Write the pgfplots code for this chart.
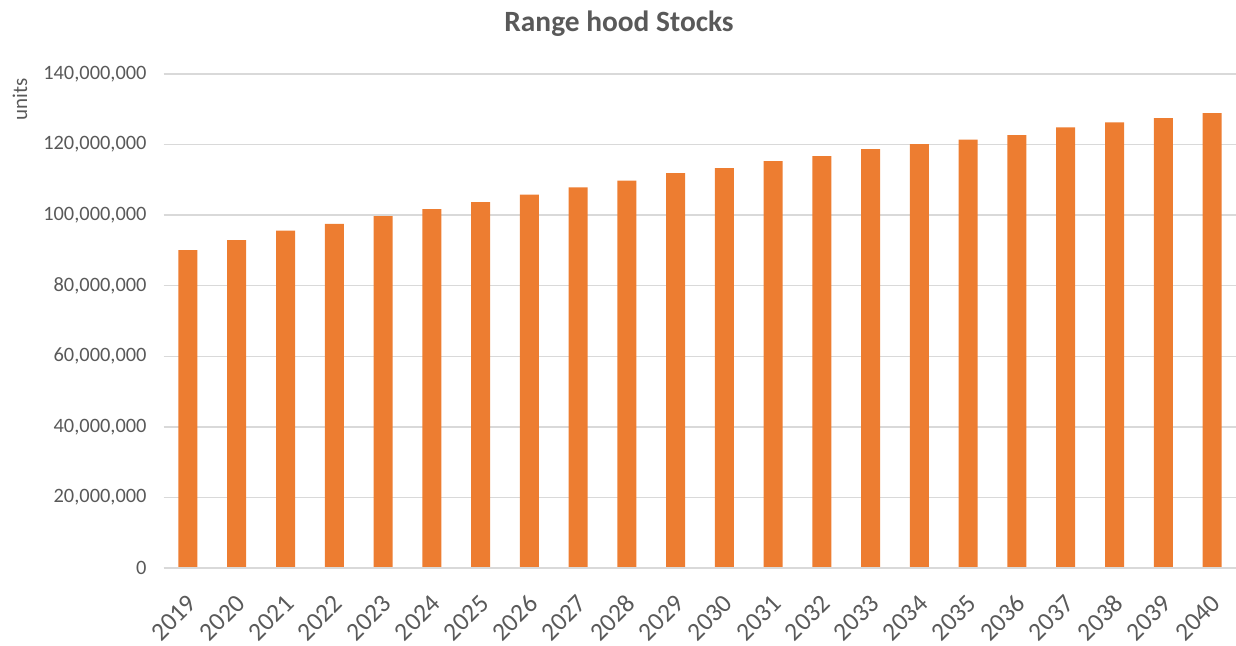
\documentclass[border=0pt]{standalone}
\usepackage{pgfplots}
\pgfplotsset{compat=1.18}
\usepackage{fontspec}
\setmainfont{Carlito}
\definecolor{barorange}{HTML}{ED7D31}
\definecolor{txtgrey}{HTML}{595959}
\definecolor{gridgrey}{HTML}{D9D9D9}
\begin{document}
\begin{tikzpicture}
\useasboundingbox (0,0) rectangle (618pt,322.5pt);
\begin{axis}[
  at={(81.8pt,38.5pt)}, anchor=south west,
  scale only axis, width=536.4pt, height=247pt,
  xmin=-0.5, xmax=21.5, ymin=0, ymax=140000000,
  ybar, bar width=9.5pt,
  axis line style={draw=none},
  axis x line*=bottom,
  tick style={draw=none},
  ymajorgrids, grid style={gridgrey, line width=0.75pt},
  ytick={0,20000000,40000000,60000000,80000000,100000000,120000000,140000000},
  scaled y ticks=false,
  /pgf/number format/fixed,
  /pgf/number format/precision=0,
  /pgf/number format/1000 sep={,},
  /pgf/number format/assume math mode=true,
  yticklabel style={font=\fontsize{10.2}{12}\selectfont, text=txtgrey, xshift=-5pt},
  xtick={0,...,21},
  xticklabels={2019,2020,2021,2022,2023,2024,2025,2026,2027,2028,2029,2030,2031,2032,2033,2034,2035,2036,2037,2038,2039,2040},
  xticklabel style={font=\fontsize{12.8}{14}\selectfont, text=txtgrey, rotate=45, anchor=east, xshift=-3.2pt, yshift=-9.5pt},
  clip=false,
]
\addplot[fill=barorange, draw=none] coordinates {
(0,90100000) (1,92900000) (2,95600000) (3,97500000) (4,99700000)
(5,101700000) (6,103700000) (7,105800000) (8,107900000) (9,109800000)
(10,111900000) (11,113300000) (12,115300000) (13,116700000) (14,118700000)
(15,120100000) (16,121400000) (17,122700000) (18,124900000) (19,126300000)
(20,127500000) (21,128900000)
};
\draw[gridgrey, line width=0.75pt] (axis cs:-0.5,0) -- (axis cs:21.5,0);
\end{axis}
\node[font=\fontsize{14.7}{17}\selectfont\bfseries, text=txtgrey] at (309.5pt,310.5pt) {Range hood Stocks};
\node[font=\fontsize{10.5}{12}\selectfont, text=txtgrey, rotate=90] at (10pt,273pt) {units};
\end{tikzpicture}
\end{document}
